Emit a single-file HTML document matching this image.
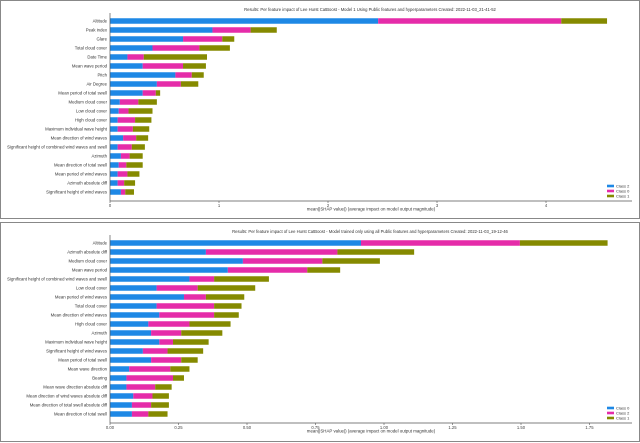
<!DOCTYPE html>
<html><head><meta charset="utf-8">
<style>
html,body{margin:0;padding:0;background:#fff;}
svg{display:block;font-family:"Liberation Sans",sans-serif;}
</style></head>
<body>
<svg id="chart" width="640" height="443" viewBox="0 0 640 443" xmlns="http://www.w3.org/2000/svg">
<rect x="0.5" y="0.5" width="639" height="218" fill="#fff" stroke="#888"/>
<rect x="0.5" y="222.5" width="639" height="219" fill="#fff" stroke="#888"/>
</svg>
<script>
const topFeatures=["Altitude","Peak index","Glare","Total cloud cover","Date Time","Mean wave period","Pitch","Air Degree","Mean period of total swell","Medium cloud cover","Low cloud cover","High cloud cover","Maximum individual wave height","Mean direction of wind waves","Significant height of combined wind waves and swell","Azimuth","Mean direction of total swell","Mean period of wind waves","Azimuth absolute diff","Significant height of wind waves"];
const topBlue=[2.46,0.94,0.67,0.39,0.16,0.30,0.60,0.43,0.30,0.09,0.08,0.07,0.07,0.12,0.07,0.10,0.08,0.07,0.07,0.10];
const topMagenta=[1.68,0.35,0.36,0.43,0.15,0.37,0.15,0.22,0.12,0.17,0.09,0.16,0.14,0.12,0.13,0.08,0.07,0.09,0.06,0.04];
const topOlive=[0.42,0.24,0.11,0.28,0.58,0.21,0.11,0.16,0.04,0.17,0.22,0.15,0.15,0.11,0.12,0.12,0.15,0.11,0.10,0.08];
const topTicks=[0,1,2,3,4];
const topLegend=["Class 2","Class 0","Class 1"];

const botFeatures=["Altitude","Azimuth absolute diff","Medium cloud cover","Mean wave period","Significant height of combined wind waves and swell","Low cloud cover","Mean period of wind waves","Total cloud cover","Mean direction of wind waves","High cloud cover","Azimuth","Maximum individual wave height","Significant height of wind waves","Mean period of total swell","Mean wave direction","Bearing","Mean wave direction absolute diff","Mean direction of wind waves absolute diff","Mean direction of total swell absolute diff","Mean direction of total swell"];
const botBlue=[0.916,0.35,0.485,0.43,0.29,0.17,0.27,0.17,0.18,0.14,0.15,0.18,0.12,0.15,0.07,0.06,0.06,0.085,0.08,0.08];
const botMagenta=[0.58,0.48,0.29,0.29,0.09,0.15,0.08,0.21,0.20,0.15,0.11,0.05,0.09,0.11,0.15,0.17,0.105,0.07,0.07,0.06];
const botOlive=[0.32,0.28,0.21,0.12,0.20,0.21,0.14,0.10,0.09,0.15,0.15,0.13,0.13,0.06,0.07,0.04,0.06,0.06,0.065,0.07];
const botTicks=["0.00","0.25","0.50","0.75","1.00","1.25","1.50","1.75"];
const botLegend=["Class 0","Class 2","Class 1"];

const NS="http://www.w3.org/2000/svg";
const svg=document.getElementById('chart');
const COLORS=["#1e88e5","#e52ca9","#858a00"];
function mk(tag,attrs,parent){const e=document.createElementNS(NS,tag);for(const k in attrs)e.setAttribute(k,attrs[k]);(parent||svg).appendChild(e);return e;}

function panel(oy,feat,s1,s2,s3,ticks,scale,legend,title,prefix){
  const x0=110,xEnd=632,axisY=oy+201,firstY=oy+21,step=9,bh=5.5;
  const xs=v=>x0+v*scale;
  const ys=i=>firstY+i*step;
  const g=mk('g',{});
  
  
  const t=mk('text',{x:370,y:oy+11,'font-size':4.2,fill:'#333','text-anchor':'middle'},g);
  t.textContent=title;
  
  
  feat.forEach((f,i)=>{
    const y=ys(i);
    const lb=mk('text',{x:x0-3,y:y+1.5,'font-size':4.3,fill:'#333','text-anchor':'end'},g);
    lb.textContent=f;
    
    
    let acc=0;
    [s1,s2,s3].forEach((s,k)=>{
      const r=mk('rect',{x:xs(acc),y:y-bh/2,width:Math.max(0,xs(acc+s[i])-xs(acc)),height:bh,fill:COLORS[k]},g);
      
      
      acc+=s[i];
    });
  });
  const ya=mk('line',{x1:x0,y1:oy+13,x2:x0,y2:axisY,stroke:'#555','stroke-width':0.7},g);
  
  
  const xa=mk('line',{x1:x0,y1:axisY,x2:xEnd,y2:axisY,stroke:'#555','stroke-width':0.7},g);
  
  
  ticks.forEach(tk=>{
    const x=xs(parseFloat(tk));
    mk('line',{x1:x,y1:axisY,x2:x,y2:axisY+2,stroke:'#555','stroke-width':0.6},g);
    const tl=mk('text',{x:x,y:axisY+6,'font-size':4.2,fill:'#444','text-anchor':'middle'},g);
    tl.textContent=String(tk);
    
    
  });
  const xt=mk('text',{x:371,y:axisY+9.5,'font-size':4.4,fill:'#333','text-anchor':'middle'},g);
  xt.textContent="mean(|SHAP value|) (average impact on model output magnitude)";
  
  
  legend.forEach((l,k)=>{
    const y=oy+186+k*5;
    const r=mk('rect',{x:607,y:y-1.3,width:7,height:2.6,fill:COLORS[k]},g);
    
    
    const lt=mk('text',{x:616,y:y+1.4,'font-size':4,fill:'#333'},g);
    lt.textContent=l;
    
    
  });
}
panel(0,topFeatures,topBlue,topMagenta,topOlive,topTicks,109,topLegend,"Results: Per feature impact of Lee Hurst CatBoost - Model 1 Using Public features and hyperparameters Created: 2022-11-03_21-41-52","top");
panel(222,botFeatures,botBlue,botMagenta,botOlive,botTicks,274,botLegend,"Results: Per feature impact of Lee Hurst CatBoost - Model trained only using all Public features and hyperparameters Created: 2022-11-03_19-12-46","bottom");
</script>
</body></html>
